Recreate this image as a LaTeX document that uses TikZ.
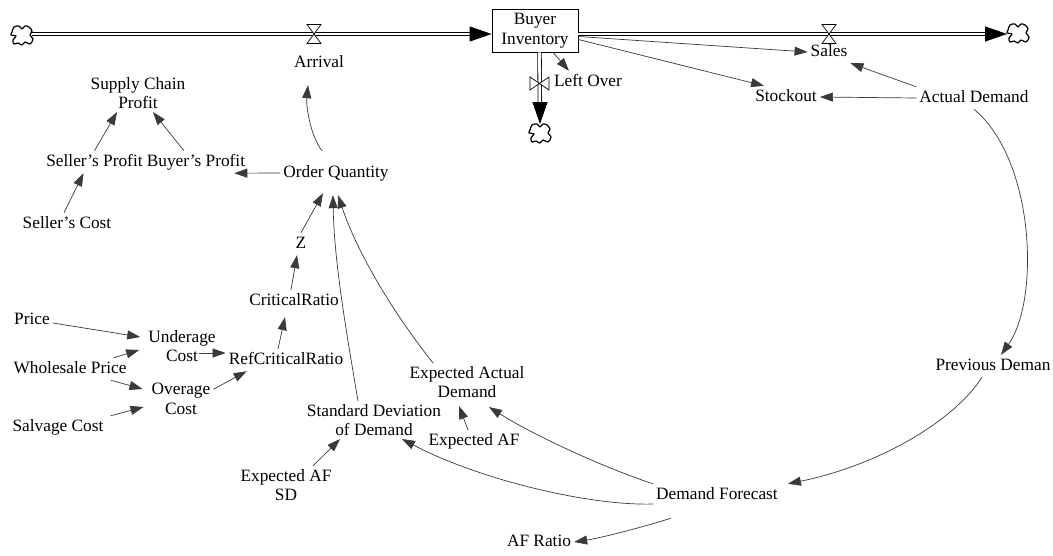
\documentclass[tikz,border=0pt]{standalone}
\usepackage{fontspec}
\setmainfont{Liberation Serif}
\usetikzlibrary{arrows.meta}
\definecolor{linkc}{HTML}{3A3A3A}
\begin{document}
\begin{tikzpicture}[x=1pt,y=-1pt,
  lbl/.style={font=\fontsize{17.3}{19.5}\selectfont, inner sep=3pt, text height=12pt, text depth=4pt},
  lbl2/.style={font=\fontsize{17.3}{19.5}\selectfont, inner sep=3pt, align=center},
  stock/.style={draw, line width=0.8pt, minimum width=86pt, minimum height=43pt, inner sep=2pt, align=center, font=\fontsize{17.3}{19.5}\selectfont},
  link/.style={draw=linkc, line width=0.7pt, -{Triangle[length=13pt,width=9pt]}},
  pipe/.style={draw=black, line width=0.8pt, double=white, double distance=2.8pt},
  flowtip/.style={-{Triangle[length=22pt,width=15pt]}, line width=0.8pt},
  cloud/.pic={\draw[line width=1.2pt, line join=round, fill=white] plot[smooth cycle, tension=0.6] coordinates {(-10,-3) (-8,-8) (-3,-9) (0,-6) (3,-9) (7,-8) (10,-4) (8,0) (11,4) (8,9) (3,7) (0,10) (-4,8) (-8,9) (-9,5) (-6,1) (-11,0)};},
  valveh/.pic={\draw[fill=white, line width=0.7pt, line join=miter] (-7,-9.5) -- (7,-9.5) -- (-7,9.5) -- (7,9.5) -- cycle;},
  valvev/.pic={\draw[fill=white, line width=0.7pt, line join=miter] (-9.5,-6.5) -- (-9.5,6.5) -- (9.5,-6.5) -- (9.5,6.5) -- cycle;}
]
\useasboundingbox[fill=white] (0,0) rectangle (1053,555);

% clouds
\coordinate (cL) at (22,35);
\coordinate (cR) at (1018,33);
\coordinate (cB) at (540,133);

% stock
\node[stock] (bi) at (535,30.5) {Buyer\\Inventory};

% pipes
\draw[pipe, shorten >=16pt] ([xshift=10pt,yshift=1pt]cL) -- ([yshift=-3.5pt]bi.west);
\draw[flowtip] ([xshift=-22pt,yshift=-3.5pt]bi.west) -- ([yshift=-3.5pt]bi.west);
\draw[pipe, shorten >=16pt] ([yshift=-3.5pt]bi.east) -- ([xshift=-11pt,yshift=-1pt]cR);
\draw[flowtip] ([xshift=-33pt,yshift=-1pt]cR) -- ([xshift=-11pt,yshift=-1pt]cR);
\draw[pipe, shorten >=16pt] ([xshift=4.5pt]bi.south) -- ([yshift=9pt]cB);
\draw[flowtip] ([yshift=31pt]cB) -- ([yshift=9pt]cB);

\pic at (cL) {cloud};
\pic at (cR) {cloud};
\pic at (cB) {cloud};

% valves
\pic at (314,34) {valveh};
\pic at (829,34) {valveh};
\pic at (539.5,83.5) {valvev};

% variables
\node[lbl] (arr) at (319,63) {Arrival};
\node[lbl] (sales) at (829,52) {Sales};
\node[lbl] (lo) at (588,82) {Left Over};
\node[lbl] (so) at (786,97) {Stockout};
\node[lbl] (ad) at (974,98) {Actual Demand};
\node[lbl] (pd) at (993,366) {Previous Deman};
\node[lbl] (df) at (717,495) {Demand Forecast};
\node[lbl] (afr) at (539,542) {AF Ratio};
\node[lbl2] (ead) at (467,382) {Expected Actual\\Demand};
\node[lbl] (eaf) at (474,441) {Expected AF};
\node[lbl2] (sdd) at (374,420) {Standard Deviation\\of Demand};
\node[lbl2] (eafsd) at (286,485) {Expected AF\\SD};
\node[lbl] (oq) at (336,173) {Order Quantity};
\node[lbl] (sp) at (94.5,162) {Seller’s Profit};
\node[lbl] (bp) at (196,162) {Buyer’s Profit};
\node[lbl2] (scp) at (138,93) {Supply Chain\\Profit};
\node[lbl] (sc) at (67,224) {Seller’s Cost};
\node[lbl] (z) at (301,244) {Z};
\node[lbl] (cr) at (294,301) {CriticalRatio};
\node[lbl] (rcr) at (286,360) {RefCriticalRatio};
\node[lbl2] (uc) at (182,346) {Underage\\Cost};
\node[lbl2] (ovc) at (181,399) {Overage\\Cost};
\node[lbl] (price) at (32,320) {Price};
\node[lbl] (wp) at (70,369) {Wholesale Price};
\node[lbl] (salv) at (58,427) {Salvage Cost};

% links
\draw[link] ([yshift=-6pt]bi.east) -- (sales.west);
\draw[link] ([yshift=-9pt]bi.east) -- ([xshift=12pt]so.north west);
\draw[link] ([xshift=18pt]bi.south) -- ([xshift=18pt]lo.north west);
\draw[link] (ad.north west) -- (sales.south east);
\draw[link] (ad.west) -- (so.east);
\draw[link] (ad.south) .. controls (1035,160) and (1040,300) .. ([xshift=8pt]pd.north);
\draw[link] ([xshift=-11pt]pd.south) .. controls (955,420) and (880,465) .. ([xshift=7pt]df.north east);
\draw[link] (df.north west) .. controls (605,468) and (535,436) .. ([xshift=22pt,yshift=-6pt]ead.south);
\draw[link] ([yshift=-9pt]df.west) .. controls (590,506) and (480,480) .. ([xshift=28pt]sdd.south);
\draw[link] ([xshift=-46pt,yshift=-12pt]df.south) .. controls (640,528) and (600,538) .. (afr.east);
\draw[link] ([xshift=-6pt]eaf.north) -- ([xshift=-8pt,yshift=-5pt]ead.south);
\draw[link] ([xshift=27pt]eafsd.north) -- ([xshift=-34pt]sdd.south);
\draw[link] ([xshift=-16pt]sdd.north) .. controls (346,330) and (334,260) .. ([xshift=-3pt,yshift=-11pt]oq.south);
\draw[link] ([xshift=-34pt]ead.north) .. controls (395,315) and (358,255) .. ([xshift=2pt,yshift=-11pt]oq.south);
\draw[link] (z.north) -- ([xshift=-13pt,yshift=-9pt]oq.south);
\draw[link] ([xshift=-3pt]cr.north) -- ([xshift=-4pt]z.south);
\draw[link] ([xshift=-8pt]rcr.north) -- ([xshift=-9pt,yshift=-5pt]cr.south);
\draw[link] ([xshift=17pt,yshift=-7pt]uc.center) -- ([yshift=7pt]rcr.west);
\draw[link] ([yshift=-9pt]ovc.north east) -- ([xshift=21pt]rcr.south west);
\draw[link] ([yshift=-3pt]price.east) -- ([xshift=-5pt,yshift=9pt]uc.west);
\draw[link] ([xshift=-16pt]wp.north east) -- ([xshift=-6pt,yshift=-4pt]uc.west);
\draw[link] ([xshift=-19pt]wp.south east) -- ([xshift=-6pt,yshift=10pt]ovc.west);
\draw[link] ([xshift=4pt]salv.north east) -- ([xshift=-5pt,yshift=-8pt]ovc.west);
\draw[link] ([xshift=-14pt,yshift=11pt]oq.north) .. controls (310,135) and (306,105) .. ([xshift=-11pt,yshift=-11pt]arr.south);
\draw[link] (oq.west) -- ([xshift=-14pt]bp.south east);
\draw[link] (sp.north) -- ([xshift=-21pt]scp.south);
\draw[link] ([xshift=-12pt]bp.north) -- ([xshift=15pt]scp.south);
\draw[link] ([xshift=-3pt]sc.north) -- ([xshift=-11pt]sp.south);
\end{tikzpicture}
\end{document}
